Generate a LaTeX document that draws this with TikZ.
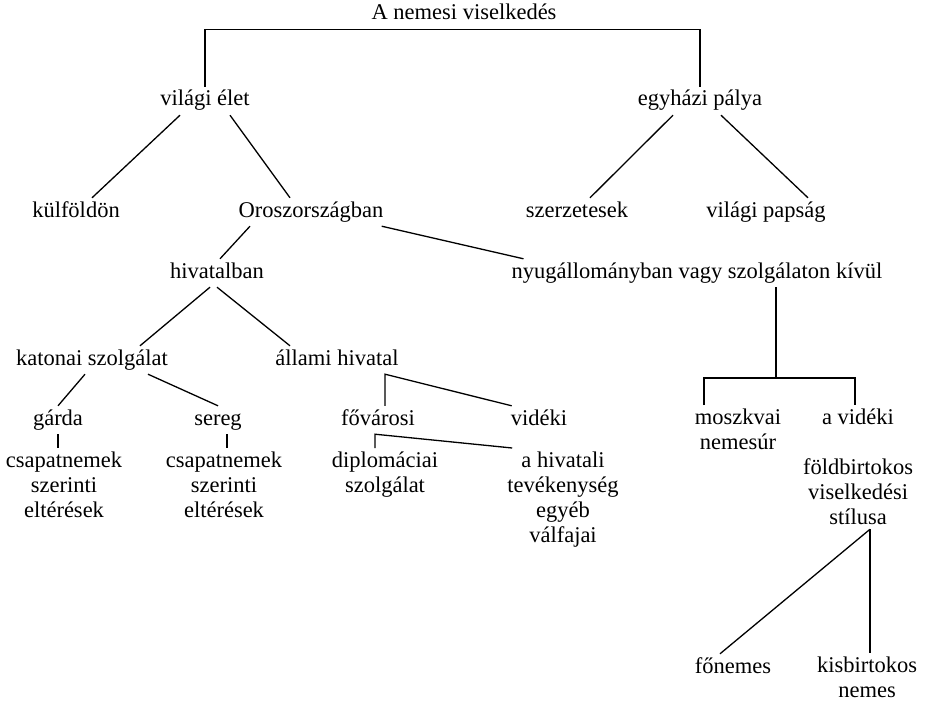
\documentclass[tikz,border=0pt]{standalone}
\usepackage{fontspec}
\setmainfont{Liberation Serif}
\usepackage{tikz}
\usetikzlibrary{positioning, calc}

\begin{document}
\begin{tikzpicture}[
    x=1pt, y=-1pt,
    lbl/.style={inner xsep=3pt, inner ysep=4pt, text height=15pt, text depth=5pt, font=\fontsize{22.5}{25}\selectfont},
    multi/.style={inner xsep=3pt, inner ysep=4pt, align=center, anchor=north, font=\fontsize{22.5}{25}\selectfont},
    link/.style={line width=1.3pt}
]
\useasboundingbox (0,0) rectangle (927,701);

\node[lbl] (title) at (464,15) {A nemesi viselkedés};
\node[lbl] (vilag) at (205,101) {világi élet};
\node[lbl] (egyhaz) at (700,101) {egyházi pálya};
\node[lbl] (kulfold) at (76,212) {külföldön};
\node[lbl] (orosz) at (311,212) {Oroszországban};
\node[lbl] (szerz) at (577,212) {szerzetesek};
\node[lbl] (papsag) at (766,212) {világi papság};
\node[lbl] (hivatal) at (217,273) {hivatalban};
\node[lbl] (nyug) at (697,273) {nyugállományban vagy szolgálaton kívül};
\node[lbl] (katona) at (92,360) {katonai szolgálat};
\node[lbl] (allami) at (337,360) {állami hivatal};
\node[lbl] (garda) at (58,420) {gárda};
\node[lbl] (sereg) at (218,420) {sereg};
\node[lbl] (fovaros) at (378,420) {fővárosi};
\node[lbl] (videki) at (539,420) {vidéki};
\node[multi] (csapA) at (64,448) {csapatnemek\\szerinti\\eltérések};
\node[multi] (csapB) at (224,448) {csapatnemek\\szerinti\\eltérések};
\node[multi] (diplo) at (385,448) {diplomáciai\\szolgálat};
\node[multi] (egyeb) at (563,448) {a hivatali\\tevékenység\\egyéb\\válfajai};
\node[multi] (moszkva) at (738,405) {moszkvai\\nemesúr};
\node[multi] (foldb) at (858,405) {a vidéki\\[25pt]földbirtokos\\viselkedési\\stílusa};
\node[lbl] (fonemes) at (733,668) {főnemes};
\node[multi] (kisbirt) at (867,653) {kisbirtokos\\nemes};

\draw[link] (vilag.north) |- (title.south) -| (egyhaz.north);
\draw[link] ([xshift=-25pt]vilag.south) -- ([xshift=16pt]kulfold.north);
\draw[link] ([xshift=25pt]vilag.south) -- ([xshift=-21pt]orosz.north);
\draw[link] ([xshift=-27pt]egyhaz.south) -- ([xshift=13pt]szerz.north);
\draw[link] ([xshift=21pt]egyhaz.south) -- ([xshift=42pt]papsag.north);
\draw[link] ([xshift=-61pt]orosz.south) -- ([xshift=3pt]hivatal.north);
\draw[link] ([xshift=-5pt]orosz.south east) -- ([xshift=15pt]nyug.north west);
\draw[link] ([xshift=-7pt]hivatal.south) -- ([xshift=48pt]katona.north);
\draw[link] (hivatal.south) -- ([xshift=-47pt]allami.north);
\draw[link] ([xshift=-7pt]katona.south) -- (garda.north);
\draw[link] ([xshift=56pt]katona.south) -- (sereg.north);
\draw[link] ([xshift=7pt]fovaros.north) -- ([xshift=48pt]allami.south) -- ([xshift=4pt]videki.north west);
\coordinate (fcorner) at ([xshift=-3pt]fovaros.south);
\draw[link] (fcorner |- diplo.north) -- (fcorner) -- ([xshift=8pt]egyeb.north west);
\draw[link] (garda.south) -- (garda.south |- csapA.north);
\draw[link] ([xshift=9pt]sereg.south) -- ([xshift=9pt]sereg.south |- csapB.north);
\coordinate (fork) at (776,378);
\draw[link] (nyug.south -| fork) -- (fork);
\draw[link] ([xshift=-34pt]moszkva.north) |- (fork) -| ([xshift=-3pt]foldb.north);
\coordinate (stil) at ([xshift=12pt]foldb.south);
\draw[link] (stil) -- (stil |- kisbirt.north);
\draw[link] (stil) -- ([xshift=-13pt]fonemes.north);
\end{tikzpicture}
\end{document}
